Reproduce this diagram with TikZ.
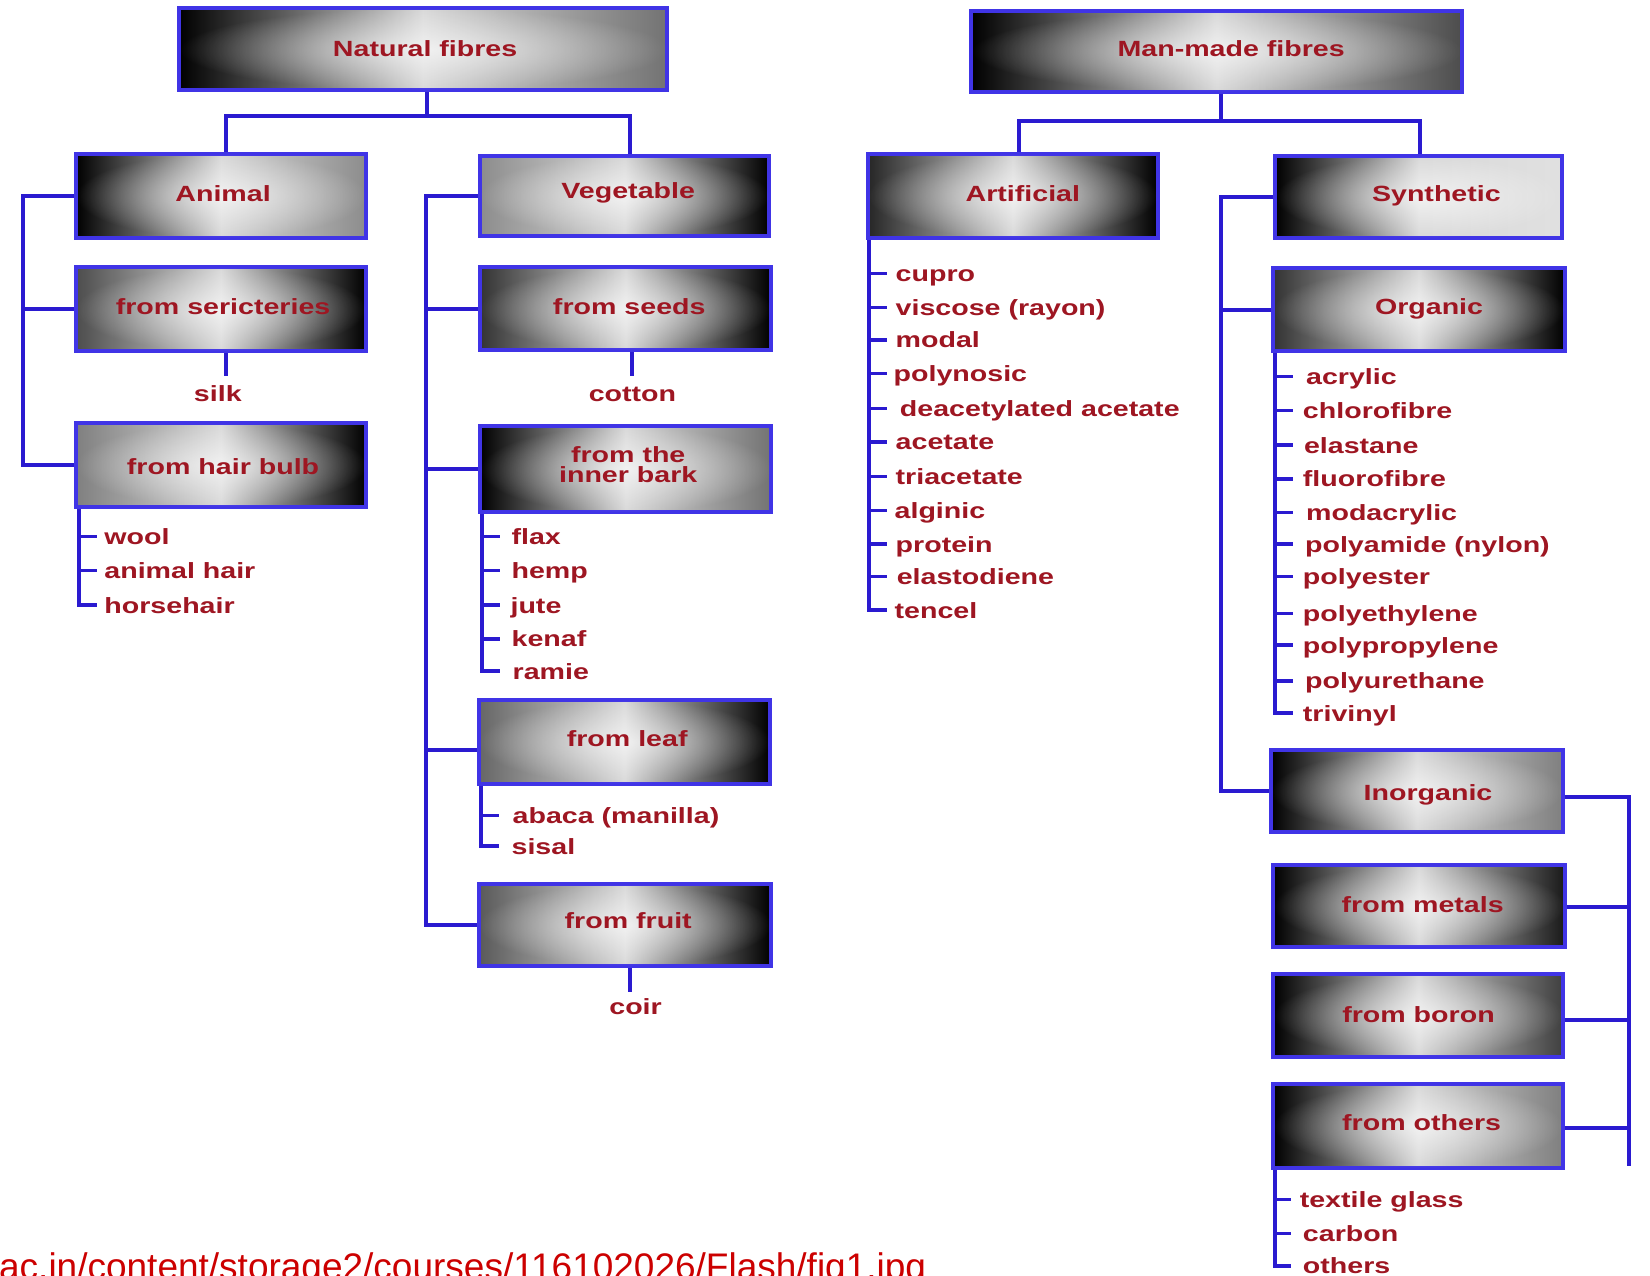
\documentclass[tikz,border=0pt]{standalone}
\usepackage{fontspec}
\setmainfont{Liberation Sans}[FakeStretch=1.3]
\newfontfamily\urlfont{Liberation Sans}
\usetikzlibrary{calc,fit,fadings}
\definecolor{lineblue}{RGB}{42,26,208}
\definecolor{boxblue}{RGB}{64,52,230}
\definecolor{txtred}{RGB}{158,22,34}
\definecolor{urlred}{RGB}{204,0,0}
\tikzfading[name=glowfade, inner color=transparent!35, outer color=transparent!100]
\begin{document}
\begin{tikzpicture}[x=1.0523pt, y=-1.0523pt,
  conn/.style={draw=lineblue, line width=4pt},
  tick/.style={draw=lineblue, line width=3.5pt},
  fbox/.style={draw=boxblue, line width=4pt, inner sep=0pt, postaction={fill=white, path fading=glowfade}},
  LR/.style 2 args={left color=#1, right color=#2, middle color=white!85!black},
  lbl/.style={font=\bfseries\fontsize{22}{21}\selectfont, text=txtred, inner sep=0pt, text height=16pt, text depth=0pt},
  item/.style={lbl, anchor=west}
]
\useasboundingbox (0,0) rectangle (1568,1212);
\fill[white] (0,0) rectangle (1568,1212);
\clip (0,0) rectangle (1568,1212);

% ---------- boxes ----------
\node[fbox, LR={black}{black!55}, fit={(170,8) (634,86)}] (nat) {};
\node[fbox, LR={black}{black!70}, fit={(923,10) (1389,87)}] (man) {};
\node[fbox, LR={black}{black!45}, fit={(72,146) (348,226)}] (ani) {};
\node[fbox, LR={black!45}{black}, fit={(456,148) (731,224)}] (veg) {};
\node[fbox, LR={black!70}{black}, fit={(72,254) (348,334)}] (ser) {};
\node[fbox, LR={black!50}{black}, fit={(72,402) (348,482)}] (hair) {};
\node[fbox, LR={black!80}{black}, fit={(456,254) (733,333)}] (seed) {};
\node[fbox, LR={black}{black!55}, fit={(456,405) (733,487)}] (bark) {};
\node[fbox, LR={black!60}{black}, fit={(455,665) (732,745)}] (leaf) {};
\node[fbox, LR={black!65}{black}, fit={(455,840) (733,918)}] (fruit) {};
\node[fbox, LR={black!85}{black}, fit={(825,146) (1100,226)}] (art) {};
\node[fbox, LR={black}{white!88!black}, fit={(1212,148) (1484,226)}] (syn) {};
\node[fbox, LR={black!80}{black}, fit={(1210,255) (1487,334)}] (org) {};
\node[fbox, LR={black}{black!50}, fit={(1208,713) (1485,791)}] (inorg) {};
\node[fbox, LR={black}{black!90}, fit={(1210,822) (1487,900)}] (met) {};
\node[fbox, LR={black}{black!75}, fit={(1210,926) (1485,1004)}] (bor) {};
\node[fbox, LR={black}{black!50}, fit={(1210,1030) (1485,1110)}] (oth) {};

% ---------- box labels ----------
\node[lbl] (nat-t) at (404,46) {Natural fibres};
\node[lbl] (man-t) at (1170,46) {Man-made fibres};
\node[lbl] (ani-t) at (212,184) {Animal};
\node[lbl] (veg-t) at (597,181) {Vegetable};
\node[lbl] (ser-t) at (212,291) {from sericteries};
\node[lbl] (hair-t) at (212,443) {from hair bulb};
\node[lbl] (seed-t) at (598,291) {from seeds};
\node[font=\bfseries\fontsize{22}{20}\selectfont, text=txtred, inner sep=0pt, align=center] (bark-t) at (597,442) {from the\\inner bark};
\node[lbl] (leaf-t) at (596,702) {from leaf};
\node[lbl] (fruit-t) at (597,875) {from fruit};
\node[lbl] (art-t) at (972,184) {Artificial};
\node[lbl] (syn-t) at (1365,184) {Synthetic};
\node[lbl] (org-t) at (1358,291) {Organic};
\node[lbl] (inorg-t) at (1357,753) {Inorganic};
\node[lbl] (met-t) at (1352,860) {from metals};
\node[lbl] (bor-t) at (1348,964) {from boron};
\node[lbl] (oth-t) at (1351,1067) {from others};

% ---------- single products ----------
\node[lbl] (silk) at (207,374) {silk};
\node[lbl] (cotton) at (601,374) {cotton};
\node[lbl] (coir) at (604,956) {coir};

% ---------- list items ----------
\node[item] (w1) at (99,510) {wool};
\node[item] (w2) at (99,542) {animal hair};
\node[item] (w3) at (99,575) {horsehair};

\node[item] (b1) at (486,510) {flax};
\node[item] (b2) at (486,542) {hemp};
\node[item] (b3) at (485,575) {jute};
\node[item] (b4) at (486,607) {kenaf};
\node[item] (b5) at (487,638) {ramie};

\node[item] (l1) at (487,775) {abaca (manilla)};
\node[item] (l2) at (486,804) {sisal};

\node[item] (a1) at (851,260) {cupro};
\node[item] (a2) at (851,292) {viscose (rayon)};
\node[item] (a3) at (851,323) {modal};
\node[item] (a4) at (849,355) {polynosic};
\node[item] (a5) at (855,388) {deacetylated acetate};
\node[item] (a6) at (851,420) {acetate};
\node[item] (a7) at (851,453) {triacetate};
\node[item] (a8) at (850,485) {alginic};
\node[item] (a9) at (851,517) {protein};
\node[item] (a10) at (852,548) {elastodiene};
\node[item] (a11) at (850,580) {tencel};

\node[item] (o1) at (1241,358) {acrylic};
\node[item] (o2) at (1238,390) {chlorofibre};
\node[item] (o3) at (1239,423) {elastane};
\node[item] (o4) at (1238,455) {fluorofibre};
\node[item] (o5) at (1241,487) {modacrylic};
\node[item] (o6) at (1240,517) {polyamide (nylon)};
\node[item] (o7) at (1238,548) {polyester};
\node[item] (o8) at (1238,583) {polyethylene};
\node[item] (o9) at (1238,613) {polypropylene};
\node[item] (o10) at (1240,647) {polyurethane};
\node[item] (o11) at (1238,678) {trivinyl};

\node[item] (t1) at (1235,1140) {textile glass};
\node[item] (t2) at (1238,1172) {carbon};
\node[item] (t3) at (1238,1203) {others};

% ---------- top connectors ----------
\coordinate (natj) at (406,110);
\draw[conn] (406,0 |- nat.south) -- (natj);
\draw[conn] (215,0 |- ani.north) |- (natj) -| (599,0 |- veg.north);

\coordinate (manj) at (1160,115);
\draw[conn] (1160,0 |- man.south) -- (manj);
\draw[conn] (968,0 |- art.north) |- (manj) -| (1349,0 |- syn.north);

% ---------- animal bracket ----------
\draw[conn] (ani.west) -| (22,0 |- hair.west) -- (hair.west);
\draw[conn] (ser.west) -- (22,0 |- ser.west);
\draw[conn] (215,0 |- ser.south) -- (215,357);

% ---------- vegetable bracket ----------
\draw[conn] (veg.west) -| (405,0 |- fruit.west) -- (fruit.west);
\draw[conn] (seed.west) -- (405,0 |- seed.west);
\draw[conn] (bark.west) -- (405,0 |- bark.west);
\draw[conn] (leaf.west |- 0,713) -- (405,713);
\draw[conn] (601,0 |- seed.south) -- (601,357);
\draw[conn] (599,0 |- fruit.south) -- (599,943);

% ---------- synthetic bracket ----------
\draw[conn] (syn.west) -| (1160,0 |- inorg.west) -- (inorg.west);
\draw[conn] (org.west) -- (1160,0 |- org.west);

% ---------- inorganic right bracket ----------
\draw[conn] (inorg.east |- 0,757) -| (1548,1108);
\draw[conn] (met.east |- 0,862) -- (1548,862);
\draw[conn] (bor.east |- 0,969) -- (1548,969);
\draw[conn] (oth.east |- 0,1072) -- (1548,1072);

% ---------- list rails ----------
\draw[conn] (75,0 |- hair.south) |- ($(75,0 |- w3.west)+(17,0)$);
\foreach \n in {w1,w2} \draw[tick] (75,0 |- \n.west) -- ++(17,0);

\draw[conn] (458,0 |- bark.south) |- ($(458,0 |- b5.west)+(17,0)$);
\foreach \n in {b1,b2,b3,b4} \draw[tick] (458,0 |- \n.west) -- ++(17,0);

\draw[conn] (457,0 |- leaf.south) |- ($(457,0 |- l2.west)+(17,0)$);
\draw[tick] (457,0 |- l1.west) -- ++(17,0);

\draw[conn] (826,0 |- art.south) |- ($(826,0 |- a11.west)+(17,0)$);
\foreach \n in {a1,a2,a3,a4,a5,a6,a7,a8,a9,a10} \draw[tick] (826,0 |- \n.west) -- ++(17,0);

\draw[conn] (1212,0 |- org.south) |- ($(1212,0 |- o11.west)+(17,0)$);
\foreach \n in {o1,o2,o3,o4,o5,o6,o7,o8,o9,o10} \draw[tick] (1212,0 |- \n.west) -- ++(17,0);

\draw[conn] (1212,0 |- oth.south) |- ($(1212,0 |- t3.west)+(15,0)$);
\foreach \n in {t1,t2} \draw[tick] (1212,0 |- \n.west) -- ++(15,0);

% ---------- source url ----------
\node[anchor=base west, inner sep=0pt, font=\urlfont\fontsize{37}{40}\selectfont, text=urlred] (url) at (-1,1216) {ac.in/content/storage2/courses/116102026/Flash/fig1.jpg};
\end{tikzpicture}
\end{document}
